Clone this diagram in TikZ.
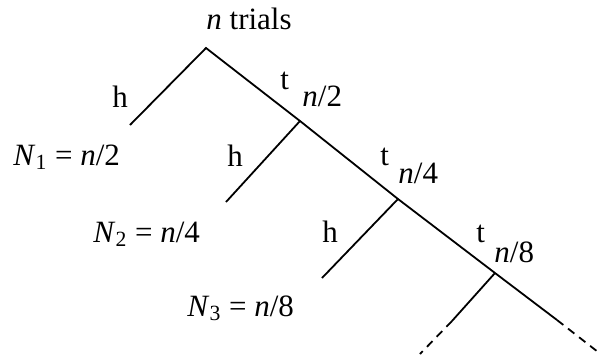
\documentclass[tikz,border=0pt]{standalone}
\usepackage{fontspec}
\setmainfont{Liberation Serif}

\begin{document}
\begin{tikzpicture}[
    x=0.5pt, y=-0.5pt,
    lbl/.style={inner sep=0pt, anchor=base west, font=\fontsize{15.5}{18}\selectfont},
    br/.style={line width=0.9pt},
    brd/.style={line width=0.9pt, dash pattern=on 4pt off 3pt}
]
    \useasboundingbox (0,0) rectangle (600,354);

    % junctions on the tail line
    \coordinate (r0) at (206,48);
    \coordinate (r1) at (300,121);
    \coordinate (r2) at (398,199);
    \coordinate (r3) at (495,273);
    \coordinate (r4) at (557,320);
    \coordinate (r5) at (598,352);

    % ends of the head branches
    \coordinate (e1) at (130,125);
    \coordinate (e2) at (226,202);
    \coordinate (e3) at (322,278);
    \coordinate (e4) at (452,321);
    \coordinate (e5) at (420,354);

    \draw [br] (e1) -- (r0) -- (r1) -- (r2) -- (r3) -- (r4);
    \draw [brd] (r4) -- (r5);
    \draw [br] (r1) -- (e2);
    \draw [br] (r2) -- (e3);
    \draw [br] (r3) -- (e4);
    \draw [brd] (e4) -- (e5);

    \node [lbl] (trials) at (206,29) {\textit{n} trials};
    \node [lbl] (h1) at (112,107) {h};
    \node [lbl] (t1) at (280,89) {t};
    \node [lbl] (m1) at (302,106) {\textit{n}/2};
    \node [lbl] (N1) at (13,165) {\textit{N}\textsubscript{1} = \textit{n}/2};
    \node [lbl] (h2) at (227,166) {h};
    \node [lbl] (t2) at (380,165) {t};
    \node [lbl] (m2) at (398,183) {\textit{n}/4};
    \node [lbl] (N2) at (93,242) {\textit{N}\textsubscript{2} = \textit{n}/4};
    \node [lbl] (h3) at (322,242) {h};
    \node [lbl] (t3) at (476,242) {t};
    \node [lbl] (m3) at (494,262) {\textit{n}/8};
    \node [lbl] (N3) at (187,316) {\textit{N}\textsubscript{3} = \textit{n}/8};
\end{tikzpicture}
\end{document}
